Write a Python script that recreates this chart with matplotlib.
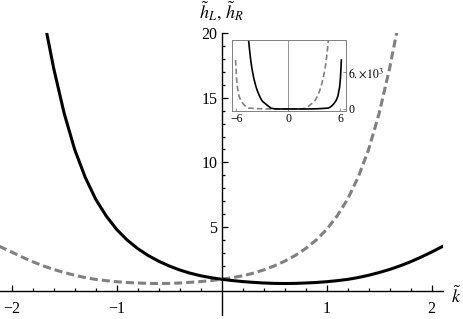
import matplotlib
matplotlib.use("Agg")
import matplotlib.pyplot as plt

plt.rcParams.update({"font.family": "Liberation Serif", "mathtext.fontset": "stix",
                     "lines.scale_dashes": False})

# main panel: h_L (solid black) and h_R (dashed gray)
k_L = [-1.68, -1.6, -1.5, -1.4, -1.3, -1.2, -1.1, -1.0, -0.9, -0.8, -0.7, -0.6,
       -0.5, -0.4, -0.3, -0.2, -0.1, 0.0, 0.1, 0.2, 0.3, 0.4, 0.5, 0.6, 0.7,
       0.8, 0.9, 1.0, 1.1, 1.2, 1.3, 1.4, 1.5, 1.6, 1.7, 1.8, 1.9, 2.0, 2.12]
h_L = [20.6, 17.3, 13.8, 11.0, 8.85, 7.15, 5.85, 4.8, 3.98, 3.32, 2.78, 2.34,
       1.97, 1.66, 1.41, 1.21, 1.06, 0.94, 0.84, 0.76, 0.70, 0.65, 0.62, 0.61,
       0.62, 0.65, 0.69, 0.75, 0.83, 0.93, 1.07, 1.25, 1.46, 1.70, 1.98, 2.30,
       2.66, 3.05, 3.55]
k_R = [-2.12, -2.0, -1.9, -1.8, -1.7, -1.6, -1.5, -1.4, -1.3, -1.2, -1.1, -1.0,
       -0.9, -0.8, -0.7, -0.6, -0.5, -0.4, -0.3, -0.2, -0.1, 0.0, 0.1, 0.2, 0.3,
       0.4, 0.5, 0.6, 0.7, 0.8, 0.9, 1.0, 1.1, 1.2, 1.3, 1.4, 1.5, 1.6, 1.68]
h_R = [3.5, 3.05, 2.66, 2.30, 1.98, 1.70, 1.46, 1.25, 1.07, 0.93, 0.83, 0.75,
       0.69, 0.65, 0.62, 0.61, 0.62, 0.65, 0.70, 0.76, 0.84, 0.94, 1.06, 1.21,
       1.41, 1.66, 1.97, 2.34, 2.78, 3.32, 3.98, 4.8, 5.85, 7.15, 8.85, 11.0,
       13.8, 17.3, 20.6]

# inset: wider k range
kin_L = [-4.7, -4.6, -4.5, -4.4, -4.3, -4.2, -4.0, -3.8, -3.6, -3.4, -3.2, -3.0,
         -2.7, -2.4, -2.0, -1.5, -1.0, 0.0, 1.0, 2.0, 3.0, 3.5, 4.0, 4.3, 4.6,
         4.9, 5.2, 5.5, 5.7, 5.9, 6.0, 6.1]
hin_L = [12600, 11200, 9800, 8500, 7400, 6500, 5000, 3900, 3000, 2300, 1700, 1250,
         900, 550, 120, 14, 4.8, 0.94, 0.75, 2.9, 20, 50, 90, 120, 150,
         380, 800, 1400, 2100, 3600, 5200, 8000]
kin_R = [-6.1, -6.0, -5.9, -5.7, -5.5, -5.2, -4.9, -4.6, -4.3, -4.0, -3.5, -3.0,
         -2.0, -1.0, 0.0, 1.0, 1.5, 2.0, 2.4, 2.7, 3.0, 3.2, 3.4, 3.6, 3.8, 4.0,
         4.2, 4.3, 4.4, 4.5, 4.6, 4.7]
hin_R = [8000, 5200, 3600, 2100, 1400, 800, 380, 150, 120, 90, 50, 20,
         2.9, 0.75, 0.94, 4.8, 14, 120, 550, 900, 1250, 1700, 2300, 3000, 3900, 5000,
         6500, 7400, 8500, 9800, 11200, 12600]

W, H = 463, 319
fig = plt.figure(figsize=(W / 100, H / 100), dpi=100)

# main axes: pixel box x 0..443, y 33..315
ax = fig.add_axes([0, 1 - 315 / H, 443 / W, (315 - 33.3) / H])
ax.plot(k_R, h_R, color="#808080", lw=2.2, dashes=(5.8, 2.9), solid_capstyle="butt")
ax.plot(k_L, h_L, color="black", lw=2.2)
ax.set_xlim(-2.111, 2.108)
ax.set_ylim(-1.83, 20)
for s in ("top", "right"):
    ax.spines[s].set_visible(False)
ax.spines["bottom"].set_position(("data", 0))
ax.spines["left"].set_position(("data", 0))
ax.spines["left"].set_bounds(-1.83, 20)
for s in ("bottom", "left"):
    ax.spines[s].set_linewidth(1.0)
ax.set_xticks([-2, -1, 1, 2])
ax.set_xticks([i / 5 for i in range(-10, 11) if i % 5], minor=True)
ax.set_yticks([5, 10, 15, 20])
ax.set_yticks([i for i in range(1, 20) if i % 5], minor=True)
ax.tick_params(which="both", direction="in", width=0.9, labelsize=11.5)
ax.tick_params(which="major", length=4.5)
ax.tick_params(which="minor", length=2.5)
ax.tick_params(axis="x", pad=7)
ax.tick_params(axis="y", pad=3)
ax.patch.set_visible(False)

fig.text(222 / W, 1 - 11 / H, r"$\tilde{h}_L,\, \tilde{h}_R$", ha="center",
         va="center", fontsize=13)
fig.text(456 / W, 1 - 296 / H, r"$\tilde{k}$", ha="center", va="center",
         fontsize=13)

# inset
ins = fig.add_axes([231.7 / W, 1 - 110.7 / H, 114 / W, 70.7 / H])
ins.axvline(0, color="#808080", lw=0.6)
ins.plot(kin_R, hin_R, color="#808080", lw=1.2, dashes=(4.0, 2.2))
ins.plot(kin_L, hin_L, color="black", lw=1.2)
ins.set_xlim(-6.55, 6.6)
ins.set_ylim(-280, 11280)
for s in ins.spines.values():
    s.set_color("#808080")
    s.set_linewidth(0.7)
ins.set_xticks([-6, 0, 6])
ins.set_yticks([0, 6000])
ins.set_yticklabels(["0", r"$6.\!\times\!10^3$"])
ins.yaxis.tick_right()
ins.tick_params(direction="in", length=2.5, width=0.6, labelsize=8.5, pad=2,
                color="#808080")

fig.savefig("out.png", dpi=100)
